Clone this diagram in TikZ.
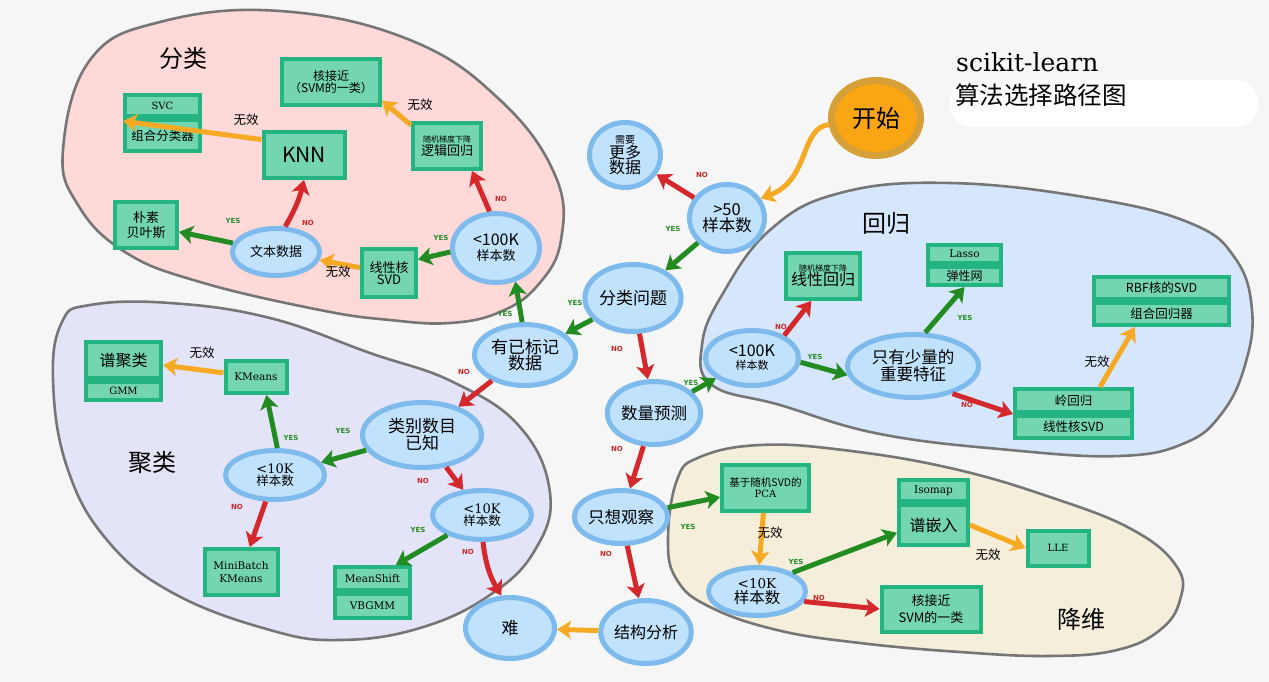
\documentclass[tikz,border=0pt]{standalone}
\usepackage{fontspec}
\newfontfamily\cjk{Noto Sans CJK SC}
\newfontfamily\srf{DejaVu Serif}
\newfontfamily\dvs{DejaVu Sans}
\usetikzlibrary{shapes.geometric,arrows.meta}
\newcommand\fsz[1]{\fontsize{#1}{#1}\selectfont}
\newcommand\fl[2]{\fontsize{#1}{#2}\selectfont\lineskiplimit=-50pt\lineskip=0pt\relax}
\definecolor{bgc}{RGB}{246,246,246}
\definecolor{pinkc}{RGB}{255,216,216}
\definecolor{lavc}{RGB}{228,228,248}
\definecolor{bluec}{RGB}{214,230,252}
\definecolor{beigec}{RGB}{245,238,218}
\definecolor{rgnline}{RGB}{118,118,118}
\definecolor{decfill}{RGB}{192,226,252}
\definecolor{decring}{RGB}{126,186,236}
\definecolor{boxline}{RGB}{36,180,130}
\definecolor{boxfill}{RGB}{116,214,176}
\definecolor{garrow}{RGB}{34,140,34}
\definecolor{rarrow}{RGB}{212,40,44}
\definecolor{oarrow}{RGB}{246,170,36}
\definecolor{yesc}{RGB}{40,140,40}
\definecolor{noc}{RGB}{200,40,40}
\definecolor{startfill}{RGB}{250,165,20}
\definecolor{startring}{RGB}{214,160,56}
\tikzset{
  dec/.style={ellipse, draw=decring, line width=5pt, fill=decfill, inner sep=0pt, align=center, font=\cjk},
  boxn/.style={rectangle, draw=boxline, line width=4pt, fill=boxfill, inner sep=0pt, align=center, font=\cjk},
  rgn/.style={draw=rgnline, line width=2.6pt},
  tipa/.style={-{Stealth[length=14pt,width=18pt,inset=3.5pt]}},
  gA/.style={draw=garrow, line width=5pt, tipa},
  rA/.style={draw=rarrow, line width=5pt, tipa},
  oA/.style={draw=oarrow, line width=5pt, tipa},
  yes/.style={font=\dvs\bfseries\fsz{7}, text=yesc, inner sep=0pt},
  no/.style={font=\dvs\bfseries\fsz{7}, text=noc, inner sep=0pt},
  wx/.style={font=\cjk\fsz{12.5}, inner sep=0pt},
  rlab/.style={font=\cjk\fsz{24}, inner sep=0pt},
}
\begin{document}
\begin{tikzpicture}[x=1pt,y=-1pt]
\useasboundingbox (0,0) rectangle (1269,682);
\fill[bgc] (0,0) rectangle (1269,682);

% regions
\draw[rgn, fill=pinkc] plot[smooth cycle, tension=0.7] coordinates {(63,150) (90,60) (160,22) (280,11) (410,40) (500,100) (555,175) (561,240) (538,285) (500,312) (450,323) (390,320) (320,310) (200,282) (125,252) (78,205)};
\draw[rgn, fill=lavc] plot[smooth cycle, tension=0.7] coordinates {(53,380) (62,322) (90,305) (170,303) (270,318) (370,353) (453,382) (520,427) (550,493) (535,550) (490,595) (420,628) (340,640) (270,630) (173,593) (107,540) (67,467)};
\draw[rgn, fill=bluec] plot[smooth cycle, tension=0.7] coordinates {(702,345) (722,295) (770,230) (840,193) (950,183) (1090,198) (1190,223) (1235,258) (1252,310) (1245,365) (1222,413) (1185,443) (1120,456) (1010,450) (880,434) (780,405) (712,385)};
\draw[rgn, fill=beigec] plot[smooth cycle, tension=0.7] coordinates {(668,540) (677,480) (700,457) (760,445) (843,450) (950,468) (1050,497) (1133,530) (1177,567) (1180,600) (1160,630) (1117,650) (1050,656) (960,652) (860,643) (777,630) (710,607) (677,580)};

% region labels
\node[rlab] (lcls) at (183,58) {分类};
\node[rlab] (lreg) at (886,223) {回归};
\node[rlab] (lclu) at (152,463) {聚类};
\node[rlab] (ldim) at (1081,619) {降维};

% title
\node[fill=white, rounded corners=22pt, minimum width=308pt, minimum height=47pt, inner sep=0pt] (tbox) at (1104,103.5) {};
\node[anchor=west, font=\srf\fsz{25}, inner sep=0pt] (t1) at (956,62) {scikit-learn};
\node[anchor=west, font=\cjk\fsz{24.5}, inner sep=0pt] (t2) at (955,95) {算法选择路径图};

% start and central decisions
\node[ellipse, draw=startring, line width=7pt, fill=startfill, inner sep=0pt, minimum width=89pt, minimum height=75pt, font=\cjk\fsz{24}] (start) at (876,118) {开始};
\node[dec, minimum width=75pt, minimum height=67pt, font=\cjk\fl{16.5}{16}] (n50) at (727,218) {>50\\样本数};
\node[dec, minimum width=71pt, minimum height=65pt, font=\cjk\fl{16}{15}] (more) at (625,155) {{\fsz{10}需要}\\更多\\数据};
\node[dec, minimum width=81pt, minimum height=67pt, font=\cjk\fsz{17}] (cls) at (633,298) {分类问题};
\node[dec, minimum width=101pt, minimum height=61pt, font=\cjk\fl{17}{16}] (lab) at (525,355) {有已标记\\数据};
\node[dec, minimum width=85pt, minimum height=63pt, font=\cjk\fsz{16.5}] (qty) at (654,413) {数量预测};
\node[dec, minimum width=77pt, minimum height=53pt, font=\cjk\fsz{16.5}] (look) at (621,517) {只想观察};
\node[dec, minimum width=87pt, minimum height=63pt, font=\cjk\fsz{16}] (struct) at (646,632) {结构分析};
\node[dec, minimum width=89pt, minimum height=61pt, font=\cjk\fsz{17}] (hard) at (510,628) {难};

% classification
\node[dec, minimum width=87pt, minimum height=69pt, font=\cjk\fl{13}{15}] (c100) at (496,248) {{\fsz{16}<100K}\\样本数};
\node[boxn, minimum width=54pt, minimum height=48pt, font=\cjk\fl{13}{12.5}] (lsvd) at (389,273) {线性核\\SVD};
\node[boxn, minimum width=68pt, minimum height=46pt, font=\cjk\fl{13}{12.5}] (sgdc) at (447,146) {{\fsz{8}随机梯度下降}\\逻辑回归};
\node[boxn, minimum width=98pt, minimum height=46pt, font=\cjk\fl{12}{12}] (kapp) at (331,82) {核接近\\（SVM的一类）};
\node[boxn, minimum width=81pt, minimum height=46pt, font=\cjk\fsz{21}] (knn) at (304,155) {KNN};
\node[boxn, minimum width=75pt, minimum height=21pt, font=\srf\fsz{10}] (svc) at (162.5,105.5) {SVC};
\node[boxn, minimum width=75pt, minimum height=31pt, font=\cjk\fsz{12.5}] (ens) at (162.5,135.5) {组合分类器};
\node[boxn, minimum width=62pt, minimum height=46pt, font=\cjk\fl{13}{15}] (nb) at (146,225) {朴素\\贝叶斯};
\node[dec, minimum width=87pt, minimum height=47pt, font=\cjk\fsz{13}] (txt) at (276,252) {文本数据};

% regression
\node[dec, minimum width=93pt, minimum height=55pt, font=\cjk\fl{11}{13}] (r100) at (752,358) {{\fsz{16}<100K}\\样本数};
\node[boxn, minimum width=74pt, minimum height=46pt, font=\cjk\fl{16}{14}] (sgdr) at (823,276) {{\fsz{8}随机梯度下降}\\线性回归};
\node[dec, minimum width=131pt, minimum height=63pt, font=\cjk\fl{16.5}{17}] (few) at (913,366) {只有少量的\\重要特征};
\node[boxn, minimum width=73pt, minimum height=18pt, font=\srf\fsz{10.5}] (lasso) at (964.5,254) {Lasso};
\node[boxn, minimum width=73pt, minimum height=18pt, font=\cjk\fsz{12}] (enet) at (964.5,276) {弹性网};
\node[boxn, minimum width=135pt, minimum height=22pt, font=\cjk\fsz{12.5}] (rbf) at (1161.5,288) {RBF核的SVD};
\node[boxn, minimum width=135pt, minimum height=22pt, font=\cjk\fsz{12.5}] (ensr) at (1161.5,314) {组合回归器};
\node[boxn, minimum width=117pt, minimum height=23pt, font=\cjk\fsz{12.5}] (ridge) at (1073.5,400.5) {岭回归};
\node[boxn, minimum width=117pt, minimum height=22pt, font=\cjk\fsz{12.5}] (lsvdr) at (1073.5,427) {线性核SVD};

% clustering
\node[dec, minimum width=119pt, minimum height=65pt, font=\cjk\fl{17}{17}] (known) at (422,435) {类别数目\\已知};
\node[dec, minimum width=99pt, minimum height=49pt, font=\cjk\fl{12.5}{12}] (k10b) at (482,515) {{\srf\fsz{13}<10K}\\样本数};
\node[boxn, minimum width=75pt, minimum height=23pt, font=\srf\fsz{10.5}] (ms) at (372.5,578.5) {MeanShift};
\node[boxn, minimum width=75pt, minimum height=24pt, font=\srf\fsz{10.5}] (vb) at (372.5,606) {VBGMM};
\node[dec, minimum width=99pt, minimum height=49pt, font=\cjk\fl{12.5}{12}] (k10a) at (275,475) {{\srf\fsz{13}<10K}\\样本数};
\node[boxn, minimum width=61pt, minimum height=32pt, font=\srf\fsz{10.5}] (km) at (256,377) {KMeans};
\node[boxn, minimum width=75pt, minimum height=36pt, font=\cjk\fsz{16}] (spec) at (123.5,360) {谱聚类};
\node[boxn, minimum width=75pt, minimum height=18pt, font=\srf\fsz{10}] (gmm) at (123.5,391) {GMM};
\node[boxn, minimum width=73pt, minimum height=46pt, font=\srf\fl{10.5}{13}] (mbk) at (241,572) {MiniBatch\\KMeans};

% dimensionality reduction
\node[boxn, minimum width=87pt, minimum height=46pt, font=\cjk\fl{10.5}{11}] (pca) at (765.5,488) {基于随机SVD的\\{\srf\fsz{10}PCA}};
\node[dec, minimum width=97pt, minimum height=48pt, font=\cjk\fl{15.5}{15}] (k10d) at (757,591.5) {{\srf\fsz{13.5}<10K}\\样本数};
\node[boxn, minimum width=69pt, minimum height=21pt, font=\srf\fsz{10.5}] (iso) at (933.5,490.5) {Isomap};
\node[boxn, minimum width=69pt, minimum height=40pt, font=\cjk\fsz{16}] (se) at (933.5,525) {谱嵌入};
\node[boxn, minimum width=61pt, minimum height=35pt, font=\srf\fsz{10}] (lle) at (1058,548) {LLE};
\node[boxn, minimum width=99pt, minimum height=45pt, font=\cjk\fl{13}{17}] (kappd) at (931,609) {核接近\\SVM的一类};

% connectors: centre
\draw[oA] (start.188) .. controls (800,128) and (810,180) .. (n50.30);
\draw[rA] (n50) -- (more);   \node[no] (l1) at (702,175) {NO};
\draw[gA] (n50) -- (cls);    \node[yes] (l2) at (673,229) {YES};
\draw[gA] (cls) -- (lab);    \node[yes] (l3) at (575,303) {YES};
\draw[gA] (lab.95) -- (c100.-60); \node[yes] (l4) at (505,314) {YES};
\draw[rA] (lab) -- (known);  \node[no] (l5) at (464,372) {NO};
\draw[rA] (cls) -- (qty);    \node[no] (l6) at (617,349) {NO};
\draw[gA] (qty) -- (r100);   \node[yes] (l7) at (691,383) {YES};
\draw[rA] (qty) -- (look);   \node[no] (l8) at (617,449) {NO};
\draw[gA] (look) -- (pca);   \node[yes] (l9) at (688,527) {YES};
\draw[rA] (look) -- (struct); \node[no] (l10) at (606,554) {NO};
\draw[oA] (struct) -- (hard);

% regression connectors
\draw[rA] (r100.35) -- (sgdr.-115);  \node[no] (l11) at (781,327) {NO};
\draw[gA] (r100.-5) -- (few.188);   \node[yes] (l12) at (815,357) {YES};
\draw[gA] (few.70) -- (enet.south); \node[yes] (l13) at (965,318) {YES};
\draw[rA] (few.-35) -- (ridge.south west); \node[no] (l14) at (967,405) {NO};
\draw[oA] (ridge.27) -- (ensr.-154); \node[wx] (l15) at (1097,362) {无效};

% dimensionality connectors
\draw[oA] (pca) -- (k10d);   \node[wx] (l16) at (770,533) {无效};
\draw[gA] (k10d.28) -- (se.-168); \node[yes] (l17) at (796,562) {YES};
\draw[rA] (k10d.-12) -- (kappd.west); \node[no] (l18) at (819,598) {NO};
\draw[oA] (se.east) -- (lle.west); \node[wx] (l19) at (988,555) {无效};

% clustering connectors
\draw[gA] (known) -- (k10a); \node[yes] (l20) at (343,431) {YES};
\draw[rA] (known) -- (k10b); \node[no] (l21) at (423,481) {NO};
\draw[gA] (k10b) -- (ms);    \node[yes] (l22) at (418,530) {YES};
\draw[rA] (k10b.-88) to[bend right=12] (hard.105); \node[no] (l23) at (468,552) {NO};
\draw[gA] (k10a.85) -- (km.-60); \node[yes] (l24) at (291,438) {YES};
\draw[rA] (k10a) -- (mbk);   \node[no] (l25) at (237,507) {NO};
\draw[oA] (km) -- (spec);    \node[wx] (l26) at (202,353) {无效};

% classification connectors
\draw[rA] (c100.100) -- (sgdc.-45); \node[no] (l27) at (501,199) {NO};
\draw[gA] (c100.185) -- (lsvd.25);  \node[yes] (l28) at (441,238) {YES};
\draw[oA] (sgdc.150) -- (kapp.-20); \node[wx] (l29) at (420,105) {无效};
\draw[oA] (lsvd) -- (txt);          \node[wx] (l30) at (338,272) {无效};
\draw[rA] (txt.70) to[bend right=8] (knn.south); \node[no] (l31) at (308,223) {NO};
\draw[gA] (txt) -- (nb);            \node[yes] (l32) at (233,221) {YES};
\draw[oA] (knn.160) -- (ens.160);   \node[wx] (l33) at (246,120) {无效};
\end{tikzpicture}
\end{document}
